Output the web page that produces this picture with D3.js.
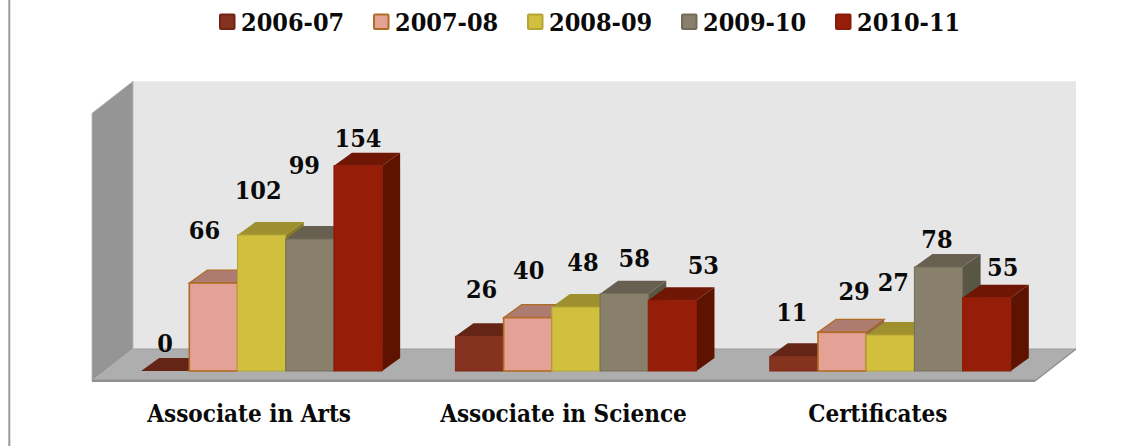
<!DOCTYPE html>
<html><head><meta charset="utf-8">
<script src="https://cdn.jsdelivr.net/npm/d3@7/dist/d3.min.js"></script>
<style>html,body{margin:0;padding:0;background:#fff}svg{display:block}
text{font-family:"DejaVu Serif Condensed","DejaVu Serif",serif;font-stretch:condensed;font-weight:bold;fill:#0a0a0a}</style>
</head><body><svg id="c" width="1147" height="446"></svg>
<script>
const categories = ["Associate in Arts", "Associate in Science", "Certificates"];
const seriesNames = ["2006-07", "2007-08", "2008-09", "2009-10", "2010-11"];
const values2006 = [0, 26, 11];
const values2007 = [66, 40, 29];
const values2008 = [102, 48, 27];
const values2009 = [99, 58, 78];
const values2010 = [154, 53, 55];
const seriesValues = [values2006, values2007, values2008, values2009, values2010];

const palette = [
  {front:"#85321f", top:"#642416", side:"#561a0e", stroke:"#7a2b19"},
  {front:"#e4a195", top:"#ad7b6f", side:"#8f5f52", stroke:"#b06c24"},
  {front:"#d1bf3e", top:"#9e902e", side:"#867a26", stroke:"#b5a536"},
  {front:"#89806b", top:"#675f50", side:"#5a5646", stroke:"#746c58"},
  {front:"#961e08", top:"#6f1604", side:"#5e1301", stroke:"#8a1c07"}
];
// hand-placed data labels in the reference: [dx from bar centre, dy from bar top]
const labelShift = [
  [[0,-19],[-9,-44],[-3.5,-36],[-5.5,-65],[0,-19]],
  [[2,-38],[1,-39],[7,-36],[10,-27],[31,-26]],
  [[-2,-35],[12,-32],[3,-44],[-1.5,-19],[16,-22]]
];

const svg = d3.select("#c");
const dx = 18, dy = -13;              // bar depth
const wallDx = 41, wallDy = -32;      // floor depth
const x0 = d3.scaleBand().domain(categories).range([92, 1035]);
const x1 = d3.scaleBand().domain(seriesNames).range([0, x0.bandwidth()]).paddingOuter(0.76).paddingInner(0).align(0.67);
const y = d3.scaleLinear().domain([0, 200]).range([371, 104.3]);
const poly = pts => pts.map(p => p.join(",")).join(" ");

// left page rule
svg.append("rect").attr("x",8.3).attr("y",0).attr("width",2).attr("height",446).attr("fill","#9a9a9a");

// walls and floor
const L = x0.range()[0], R = x0.range()[1], fy = y(0) + 10, wallTop = y(200) + 9;
svg.append("polygon").attr("points",poly([[L+wallDx,wallTop+wallDy],[R+wallDx,wallTop+wallDy],[R+wallDx,fy+wallDy],[L+wallDx,fy+wallDy]])).attr("fill","#e6e6e6");
svg.append("polygon").attr("points",poly([[L,wallTop],[L+wallDx,wallTop+wallDy],[L+wallDx,fy+wallDy],[L,fy]])).attr("fill","#959595").attr("stroke","#b5b5b5").attr("stroke-width",0.8);
svg.append("polygon").attr("points",poly([[L,fy],[L+wallDx,fy+wallDy],[R+wallDx,fy+wallDy],[R,fy]])).attr("fill","#aeaeae");
svg.append("line").attr("x1",L+wallDx).attr("x2",R+wallDx).attr("y1",fy+wallDy).attr("y2",fy+wallDy).attr("stroke","#9c9c9c").attr("stroke-width",1.2);
svg.append("polygon").attr("points",poly([[L,fy-1.5],[R,fy-1.5],[R,fy+1],[L,fy+1]])).attr("fill","#8f8f8f");
svg.append("line").attr("x1",R).attr("y1",fy).attr("x2",R+wallDx).attr("y2",fy+wallDy).attr("stroke","#8f8f8f").attr("stroke-width",1.5);

// bars, left to right so each front hides the side of the previous one
const labelsOut = [];
categories.forEach((cat, ci) => {
  seriesNames.forEach((s, si) => {
    const v = seriesValues[si][ci], c = palette[si];
    const xa = x0(cat) + x1(s), w = x1.bandwidth(), yt = y(v), yb = y(0);
    const g = svg.append("g").attr("class","bar");
    g.append("polygon").attr("points",poly([[xa+w,yt],[xa+w+dx,yt+dy],[xa+w+dx,yb+dy],[xa+w,yb]])).attr("fill",c.side);
    g.append("polygon").attr("points",poly([[xa,yt],[xa+dx,yt+dy],[xa+w+dx,yt+dy],[xa+w,yt]])).attr("fill",c.top).attr("stroke",si===1?c.stroke:"none").attr("stroke-width",1.2);
    if (v > 0) g.append("rect").attr("x",xa).attr("y",yt).attr("width",w).attr("height",yb-yt).attr("fill",c.front).attr("stroke",c.stroke).attr("stroke-width",si===1?1.6:1);
    labelsOut.push({v, x:xa+w/2+labelShift[ci][si][0], y:yt+labelShift[ci][si][1]});
  });
});

// data labels
svg.append("g").selectAll("text").data(labelsOut).join("text")
  .attr("x",d=>d.x).attr("y",d=>d.y).attr("text-anchor","middle")
  .attr("font-size",25).text(d=>d.v);

// category axis
const axis = svg.append("g").attr("transform","translate(0,"+fy+")")
  .call(d3.axisBottom(x0).tickSize(0).tickPadding(22));
axis.select(".domain").remove();
axis.selectAll("text").attr("font-size",24).attr("font-family",null).attr("fill",null).attr("dy",0).attr("y",41);

// legend
const lx = d3.scalePoint().domain(seriesNames).range([219, 835]);
const lg = svg.append("g").selectAll("g").data(seriesNames).join("g").attr("transform",d=>"translate("+lx(d)+",0)");
lg.append("rect").attr("x",1).attr("y",14.5).attr("width",14.5).attr("height",14.5).attr("rx",1)
  .attr("fill",(d,i)=>palette[i].front).attr("stroke",(d,i)=>palette[i].stroke==="#7a2b19"?"#6f2414":palette[i].stroke).attr("stroke-width",2);
lg.append("text").attr("x",22).attr("y",31).attr("font-size",25).text(d=>d);
</script></body></html>
